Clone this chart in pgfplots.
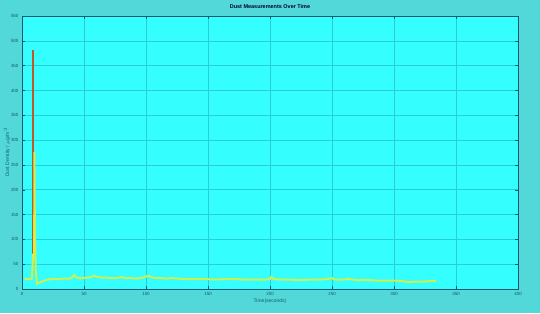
\documentclass[border=0pt]{standalone}
\usepackage{pgfplots}
\pgfplotsset{compat=1.18}
\usepackage{fontspec}
\setmainfont{Liberation Sans}
\definecolor{outerbg}{RGB}{82,216,216}
\definecolor{innerbg}{RGB}{52,254,254}
\definecolor{axcol}{RGB}{20,90,110}
\definecolor{gridcol}{RGB}{40,205,215}
\definecolor{yel}{RGB}{205,240,80}
\definecolor{redl}{RGB}{190,90,40}
\begin{document}
\begin{tikzpicture}[x=1bp,y=1bp]
\fill[outerbg] (0,0) rectangle (540,313);
\begin{axis}[
  at={(22bp,24bp)}, anchor=south west,
  scale only axis, width=496bp, height=273bp,
  xmin=0, xmax=400, ymin=0, ymax=550,
  xtick={0,50,...,400}, ytick={0,50,...,550},
  axis background/.style={fill=innerbg},
  axis line style={axcol, line width=0.6pt},
  tick style={axcol, line width=0.4pt},
  tick align=inside, major tick length=3bp,
  grid=major, major grid style={gridcol, line width=0.5pt},
  ticklabel style={font=\fontsize{4.5}{4.5}\selectfont, text=axcol},
  /pgf/number format/assume math mode=true,
  scaled ticks=false,
  title={\textbf{Dust Measurements Over Time}},
  title style={font=\fontsize{5.5}{5.5}\selectfont, text=black!80!blue, at={(0.5,1)}, yshift=-2bp},
  xlabel={Time(seconds)},
  ylabel={Dust Density / $\mu$g/m$^3$},
  xlabel style={font=\fontsize{5}{5}\selectfont, text=axcol, yshift=4bp},
  ylabel style={font=\fontsize{5}{5}\selectfont, text=axcol, yshift=-6bp},
  clip=true,
]
\addplot[redl, line width=1.8pt] coordinates {(8.6,70) (8.6,482)};
\addplot[yel, line width=2pt, line join=round] coordinates {
(2,21) (4,20) (6,20) (8,21) (9,70) (9.8,72) (10,275) (10.3,150) (11,40) (12,10) (14,13) (16,15) (18,17) (20,18)
(23,20) (26,20) (30,20) (34,21) (38,21) (40,22) (42,28) (44,23) (48,22) (52,23) (56,24) (58,27) (60,25) (64,23)
(68,23) (72,22) (76,22) (80,24) (84,22) (88,22) (92,21) (96,22) (100,25) (102,27) (104,24) (108,22) (112,22)
(116,21) (120,22) (126,21) (132,20) (140,20) (148,20) (156,19) (164,20) (172,20) (180,19) (188,19) (196,19)
(200,20) (201,25) (203,20) (208,19) (216,19) (224,18) (232,19) (240,19) (246,20) (250,22) (252,19) (258,19)
(264,20) (270,18) (278,18) (286,17) (294,17) (300,17) (306,16) (312,14) (318,15) (324,15) (330,16) (334,17)};
\end{axis}
\end{tikzpicture}
\end{document}
